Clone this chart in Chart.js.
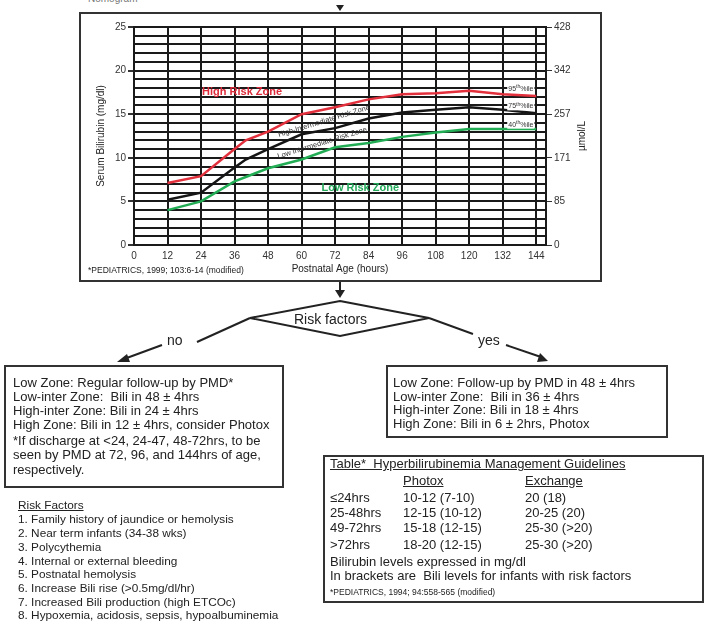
<!DOCTYPE html>
<html>
<head>
<meta charset="utf-8">
<script src="https://cdn.jsdelivr.net/npm/chart.js@4.4.0/dist/chart.umd.min.js"></script>
<style>
  body { margin: 0; background: #fff; font-family: "Liberation Sans", Arial, sans-serif; color: #222; }
  #page { position: relative; width: 709px; height: 621px; overflow: hidden; background: #fff; }
  .box { position: absolute; border: 2px solid #333; box-sizing: border-box; }
  .t { position: absolute; white-space: nowrap; font-size: 13px; line-height: 14px; }
  .rf { font-size: 11.8px; }
  .u { text-decoration: underline; }
  #chartWrap { position: absolute; left: 81px; top: 14px; width: 518px; height: 265px; }
  svg { position: absolute; left: 0; top: 0; }
</style>
</head>
<body>
<div id="page">
  <div class="t" style="left:88px; top:-8px; font-size:10px; color:#777;">Nomogram</div>

  <div class="box" style="left:79px; top:12px; width:523px; height:270px;"></div>
  <div id="chartWrap"><canvas id="nomogram"></canvas></div>
  <div class="t" style="left:88px; top:265px; font-size:8.5px; line-height:10px;">*PEDIATRICS, 1999; 103:6-14 (modified)</div>

  <svg width="709" height="621">
    <polygon points="336,5 344,5 340,11" fill="#222"/>
    <line x1="340" y1="282" x2="340" y2="292" stroke="#222" stroke-width="2"/>
    <polygon points="335,290 345,290 340,298" fill="#222"/>
    <polygon points="340,301 429,318 340,336 250,318" fill="none" stroke="#222" stroke-width="2"/>
    <line x1="250" y1="318" x2="197" y2="342" stroke="#222" stroke-width="2"/>
    <line x1="162" y1="345" x2="124" y2="359" stroke="#222" stroke-width="2"/>
    <polygon points="117,362 127,354 130,362" fill="#222"/>
    <line x1="429" y1="318" x2="473" y2="334" stroke="#222" stroke-width="2"/>
    <line x1="506" y1="345" x2="541" y2="357" stroke="#222" stroke-width="2"/>
    <polygon points="548,361 537,362 540,353" fill="#222"/>
  </svg>

  <div class="t" style="left:294px; top:310px; font-size:14px; line-height:18px;">Risk factors</div>
  <div class="t" style="left:167px; top:332px; font-size:14px; line-height:16px;">no</div>
  <div class="t" style="left:478px; top:332px; font-size:14px; line-height:16px;">yes</div>

  <div class="box" style="left:4px; top:365px; width:280px; height:123px;"></div>
  <div class="t" style="left:13px; top:376px;">Low Zone: Regular follow-up by PMD*</div>
  <div class="t" style="left:13px; top:390px;">Low-inter Zone:&nbsp; Bili in 48 ± 4hrs</div>
  <div class="t" style="left:13px; top:404px;">High-inter Zone: Bili in 24 ± 4hrs</div>
  <div class="t" style="left:13px; top:418px;">High Zone: Bili in 12 ± 4hrs, consider Photox</div>
  <div class="t" style="left:13px; top:434px;">*If discharge at &lt;24, 24-47, 48-72hrs, to be</div>
  <div class="t" style="left:13px; top:448px;">seen by PMD at 72, 96, and 144hrs of age,</div>
  <div class="t" style="left:13px; top:463px;">respectively.</div>

  <div class="box" style="left:386px; top:365px; width:282px; height:73px;"></div>
  <div class="t" style="left:393px; top:376px;">Low Zone: Follow-up by PMD in 48 ± 4hrs</div>
  <div class="t" style="left:393px; top:390px;">Low-inter Zone:&nbsp; Bili in 36 ± 4hrs</div>
  <div class="t" style="left:393px; top:403px;">High-inter Zone: Bili in 18 ± 4hrs</div>
  <div class="t" style="left:393px; top:417px;">High Zone: Bili in 6 ± 2hrs, Photox</div>

  <div class="t rf u" style="left:18px; top:498px;">Risk Factors</div>
  <div class="t rf" style="left:18px; top:512px;">1. Family history of jaundice or hemolysis</div>
  <div class="t rf" style="left:18px; top:526px;">2. Near term infants (34-38 wks)</div>
  <div class="t rf" style="left:18px; top:540px;">3. Polycythemia</div>
  <div class="t rf" style="left:18px; top:554px;">4. Internal or external bleeding</div>
  <div class="t rf" style="left:18px; top:567px;">5. Postnatal hemolysis</div>
  <div class="t rf" style="left:18px; top:581px;">6. Increase Bili rise (&gt;0.5mg/dl/hr)</div>
  <div class="t rf" style="left:18px; top:595px;">7. Increased Bili production (high ETCOc)</div>
  <div class="t rf" style="left:18px; top:608px;">8. Hypoxemia, acidosis, sepsis, hypoalbuminemia</div>

  <div class="box" style="left:323px; top:455px; width:381px; height:148px;"></div>
  <div class="t u" style="left:330px; top:457px;">Table*&nbsp; Hyperbilirubinemia Management Guidelines</div>
  <div class="t u" style="left:403px; top:474px;">Photox</div>
  <div class="t u" style="left:525px; top:474px;">Exchange</div>
  <div class="t" style="left:330px; top:491px;">≤24hrs</div>
  <div class="t" style="left:403px; top:491px;">10-12 (7-10)</div>
  <div class="t" style="left:525px; top:491px;">20 (18)</div>
  <div class="t" style="left:330px; top:506px;">25-48hrs</div>
  <div class="t" style="left:403px; top:506px;">12-15 (10-12)</div>
  <div class="t" style="left:525px; top:506px;">20-25 (20)</div>
  <div class="t" style="left:330px; top:521px;">49-72hrs</div>
  <div class="t" style="left:403px; top:521px;">15-18 (12-15)</div>
  <div class="t" style="left:525px; top:521px;">25-30 (&gt;20)</div>
  <div class="t" style="left:330px; top:538px;">&gt;72hrs</div>
  <div class="t" style="left:403px; top:538px;">18-20 (12-15)</div>
  <div class="t" style="left:525px; top:538px;">25-30 (&gt;20)</div>
  <div class="t" style="left:330px; top:555px;">Bilirubin levels expressed in mg/dl</div>
  <div class="t" style="left:330px; top:569px;">In brackets are&nbsp; Bili levels for infants with risk factors</div>
  <div class="t" style="left:330px; top:587px; font-size:8.5px; line-height:10px;">*PEDIATRICS, 1994; 94:558-565 (modified)</div>
</div>

<script>
// hours after birth where the percentile curves were read
const hours = [12, 24, 36, 40, 48, 60, 72, 84, 96, 108, 120, 132, 144];
const p95 = [7.1, 7.9, 11.0, 12.0, 13.0, 15.0, 15.8, 16.7, 17.3, 17.4, 17.7, 17.3, 17.1];
const p75 = [5.2, 6.0, 8.9, 9.8, 11.0, 12.7, 13.4, 14.5, 15.2, 15.5, 15.8, 15.5, 15.1];
const p40 = [4.0, 5.0, 7.3, 7.8, 8.8, 9.8, 11.2, 11.7, 12.4, 12.9, 13.3, 13.3, 13.3];

const mgTicks = [0, 5, 10, 15, 20, 25];
const umolTicks = ["0", "85", "171", "257", "342", "428"];

// zone captions, placed in data units (hours, mg/dl)
const zoneLabels = [
  { text: "High Risk Zone", x: 38.7, y: 17.5, color: "#dc2b3a", bold: true, size: 11, angle: 0 },
  { text: "Low Risk Zone", x: 81, y: 6.5, color: "#23a95a", bold: true, size: 11, angle: 0 },
  { text: "High-Intermediate Risk Zone", x: 68, y: 14.2, color: "#333", bold: false, size: 7.5, angle: -17 },
  { text: "Low Intermediate Risk Zone", x: 67.4, y: 11.7, color: "#333", bold: false, size: 7.5, angle: -17 },
];
const pctLabels = [
  { num: "95", x: 143, y: 17.9 },
  { num: "75", x: 143, y: 15.9 },
  { num: "40", x: 143, y: 13.8 },
];

function toPoints(values) {
  return values.map((v, i) => ({ x: hours[i], y: v }));
}

Chart.defaults.font.family = '"Liberation Sans", Arial, sans-serif';
Chart.defaults.color = "#333";

const annotate = {
  id: "annotate",
  afterDatasetsDraw(chart) {
    const ctx = chart.ctx;
    const xs = chart.scales.x;
    const ys = chart.scales.y;
    ctx.save();
    zoneLabels.forEach((l) => {
      ctx.save();
      ctx.translate(xs.getPixelForValue(l.x), ys.getPixelForValue(l.y));
      ctx.rotate((l.angle * Math.PI) / 180);
      ctx.font = (l.bold ? "bold " : "") + l.size + 'px "Liberation Sans", Arial, sans-serif';
      ctx.fillStyle = l.color;
      ctx.textAlign = "center";
      ctx.textBaseline = "middle";
      ctx.fillText(l.text, 0, 0);
      ctx.restore();
    });
    pctLabels.forEach((l) => {
      const right = xs.getPixelForValue(l.x);
      const cy = ys.getPixelForValue(l.y);
      ctx.font = '7px "Liberation Sans", Arial, sans-serif';
      const w1 = ctx.measureText(l.num).width;
      const w3 = ctx.measureText("%ile").width;
      ctx.font = '5px "Liberation Sans", Arial, sans-serif';
      const w2 = ctx.measureText("th").width;
      const left = right - (w1 + w2 + w3);
      ctx.fillStyle = "#fff";
      ctx.fillRect(left - 1, cy - 4, w1 + w2 + w3 + 2, 8);
      ctx.fillStyle = "#333";
      ctx.textBaseline = "middle";
      ctx.textAlign = "left";
      ctx.font = '7px "Liberation Sans", Arial, sans-serif';
      ctx.fillText(l.num, left, cy);
      ctx.font = '5px "Liberation Sans", Arial, sans-serif';
      ctx.fillText("th", left + w1, cy - 2);
      ctx.font = '7px "Liberation Sans", Arial, sans-serif';
      ctx.fillText("%ile", left + w1 + w2, cy);
    });
    // right axis title reads bottom to top
    const area = chart.chartArea;
    ctx.translate(area.right + 36, (area.top + area.bottom) / 2);
    ctx.rotate(-Math.PI / 2);
    ctx.font = '10px "Liberation Sans", Arial, sans-serif';
    ctx.fillStyle = "#222";
    ctx.textAlign = "center";
    ctx.textBaseline = "middle";
    ctx.fillText("µmol/L", 0, 0);
    ctx.restore();
  },
};

new Chart(document.getElementById("nomogram"), {
  type: "line",
  data: {
    datasets: [
      { label: "95th %ile", data: toPoints(p95), borderColor: "#e3303d", borderWidth: 2.5, pointRadius: 0, tension: 0 },
      { label: "75th %ile", data: toPoints(p75), borderColor: "#151515", borderWidth: 2.5, pointRadius: 0, tension: 0 },
      { label: "40th %ile", data: toPoints(p40), borderColor: "#22ad55", borderWidth: 2.5, pointRadius: 0, tension: 0 },
    ],
  },
  options: {
    responsive: true,
    maintainAspectRatio: false,
    animation: false,
    layout: { padding: { top: 13, left: 0, right: 0, bottom: 0 } },
    plugins: { legend: { display: false }, tooltip: { enabled: false } },
    scales: {
      x: {
        type: "linear",
        min: 0,
        max: 147.5,
        ticks: { stepSize: 12, includeBounds: false, autoSkip: false, maxRotation: 0, padding: 5, font: { size: 10 } },
        grid: { color: "#1a1a1a", lineWidth: 2, drawTicks: false },
        border: { color: "#1a1a1a", width: 2 },
        title: { display: true, text: "Postnatal Age (hours)", color: "#222", font: { size: 10 }, padding: { top: 0, bottom: 4 } },
        afterFit(scale) { scale.height = 34; },
      },
      y: {
        min: 0,
        max: 25,
        ticks: {
          stepSize: 1,
          autoSkip: false,
          padding: 2,
          font: { size: 10 },
          callback: (v) => (mgTicks.includes(v) ? v : ""),
        },
        grid: {
          color: "#1a1a1a",
          lineWidth: 2,
          tickLength: 6,
          tickColor: (c) => (c.tick && mgTicks.includes(c.tick.value) ? "#333" : "rgba(0,0,0,0)"),
        },
        border: { color: "#1a1a1a", width: 2 },
        title: { display: true, text: "Serum Bilirubin (mg/dl)", color: "#222", font: { size: 10 }, padding: { top: 14, bottom: 0 } },
        afterFit(scale) { scale.width = 53; },
      },
      y2: {
        position: "right",
        min: 0,
        max: 25,
        ticks: {
          stepSize: 5,
          padding: 2,
          font: { size: 10 },
          callback: (v) => umolTicks[mgTicks.indexOf(v)],
        },
        grid: { drawOnChartArea: false, tickLength: 6, tickColor: "#333" },
        border: { color: "#1a1a1a", width: 2 },
        afterFit(scale) { scale.width = 53; },
      },
    },
  },
  plugins: [annotate],
});
</script>
</body>
</html>
